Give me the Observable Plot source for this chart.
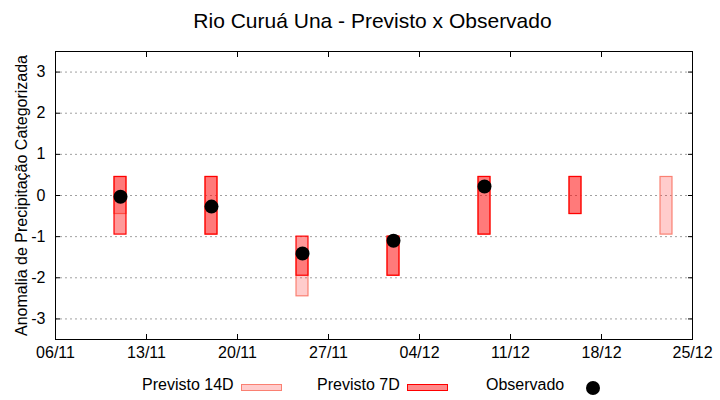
<!DOCTYPE html>
<html>
<head>
<meta charset="utf-8">
<script src="https://cdn.jsdelivr.net/npm/d3@7"></script>
<script src="https://cdn.jsdelivr.net/npm/@observablehq/plot@0.6"></script>
<style>
  html, body { margin: 0; padding: 0; background: #fff; }
  #wrap { position: relative; width: 720px; height: 400px; font-family: "Liberation Sans", Arial, sans-serif; color: #000; }
  #title { position: absolute; left: 0; top: 10px; width: 720px; padding-left: 25px; box-sizing: border-box; text-align: center; font-size: 21px; line-height: 21px; }
  #chart { position: absolute; left: 0; top: 40px; }
  .lg { position: absolute; font-size: 16px; line-height: 16px; top: 377px; white-space: nowrap; }
  .sw { position: absolute; box-sizing: border-box; }
</style>
</head>
<body>
<div id="wrap">
  <div id="title">Rio Curuá Una - Previsto x Observado</div>
  <div id="chart"></div>
  <div class="lg" style="left:142px">Previsto 14D</div>
  <div class="sw" style="left:241px; top:384px; width:41px; height:7px; background:#ffcccc; border:1px solid #fa8072"></div>
  <div class="lg" style="left:317px">Previsto 7D</div>
  <div class="sw" style="left:407px; top:384px; width:41px; height:7px; background:#ff8a8a; border:1px solid #ff0000"></div>
  <div class="lg" style="left:486px">Observado</div>
  <div class="sw" style="left:586px; top:381px; width:14px; height:14px; border-radius:50%; background:#000"></div>
</div>
<script>
// ---- data ----
const dates    = ["2023-11-11","2023-11-18","2023-11-25","2023-12-02","2023-12-09","2023-12-16","2023-12-23"];
const p14Low   = [-0.45, -0.95, -2.45, -1.95, -0.95, -0.45, -0.95];
const p14High  = [ 0.45,  0.45, -1.45, -1.0,   0.45,  0.45,  0.45];
const p7Low    = [-0.95, -0.95, -1.95, -1.95, -0.95, -0.45, null];
const p7High   = [ 0.45,  0.45, -1.0,  -1.0,   0.45,  0.45, null];
const observed = [-0.03, -0.27, -1.41, -1.1,   0.22,  null, null];
const xTickLabels = ["2023-11-06","2023-11-13","2023-11-20","2023-11-27","2023-12-04","2023-12-11","2023-12-18","2023-12-25"];
const yTicks = [-3, -2, -1, 0, 1, 2, 3];
const yDomain = [-3.5, 3.5];

// ---- build ----
const parse = d3.utcParse("%Y-%m-%d");
const xTicks = xTickLabels.map(parse);
const DAY = 864e5, HALF = 0.46 * DAY;
const rows = dates.map((d, i) => ({date: parse(d), lo14: p14Low[i], hi14: p14High[i], lo7: p7Low[i], hi7: p7High[i], obs: observed[i]}));
const rows14 = rows.filter(r => r.lo14 != null);
const rows7 = rows.filter(r => r.lo7 != null);
const rowsObs = rows.filter(r => r.obs != null);

const chart = Plot.plot({
  width: 720,
  height: 325,
  marginTop: 11,
  marginBottom: 26,
  marginLeft: 55,
  marginRight: 28,
  style: {fontFamily: "Liberation Sans, Arial, sans-serif", fontSize: "16px", color: "#000", background: "#fff", overflow: "visible"},
  x: {type: "utc", domain: [xTicks[0], xTicks[xTicks.length - 1]]},
  y: {domain: yDomain},
  marks: [
    Plot.gridY(yTicks, {stroke: "#a0a0a0", strokeOpacity: 1, strokeDasharray: "2,3"}),
    Plot.rectY(rows14, {x1: d => new Date(+d.date - HALF), x2: d => new Date(+d.date + HALF), y1: "lo14", y2: "hi14", fill: "#ff0000", fillOpacity: 0.2, stroke: "#fa8072", strokeWidth: 1.2}),
    Plot.rectY(rows7, {x1: d => new Date(+d.date - HALF), x2: d => new Date(+d.date + HALF), y1: "lo7", y2: "hi7", fill: "#ff0000", fillOpacity: 0.4, stroke: "#ff0000", strokeWidth: 1.2}),
    Plot.dot(rowsObs, {x: "date", y: "obs", r: 7, fill: "#000"}),
    // labels
    Plot.axisY({anchor: "left", ticks: yTicks, tickSize: 0, tickPadding: 10, fontSize: 16,
      tickFormat: d => String(d),
      label: "Anomalia de Precipitação Categorizada", labelAnchor: "center", labelArrow: "none", labelOffset: 40}),
    Plot.axisX({anchor: "bottom", ticks: xTicks, tickSize: 0, tickPadding: 7, fontSize: 16,
      tickFormat: d3.utcFormat("%d/%m"), label: null}),
    // inward ticks on all sides
    Plot.axisY({anchor: "left", ticks: yTicks, tickSize: 5, dx: 5, tickFormat: () => "", label: null}),
    Plot.axisY({anchor: "right", ticks: yTicks, tickSize: 5, dx: -5, tickFormat: () => "", label: null}),
    Plot.axisX({anchor: "bottom", ticks: xTicks, tickSize: 5, dy: -5, tickFormat: () => "", label: null}),
    Plot.axisX({anchor: "top", ticks: xTicks, tickSize: 5, dy: 5, tickFormat: () => "", label: null}),
    Plot.frame({stroke: "#000", strokeWidth: 1})
  ]
});
document.getElementById("chart").appendChild(chart);
</script>
</body>
</html>
